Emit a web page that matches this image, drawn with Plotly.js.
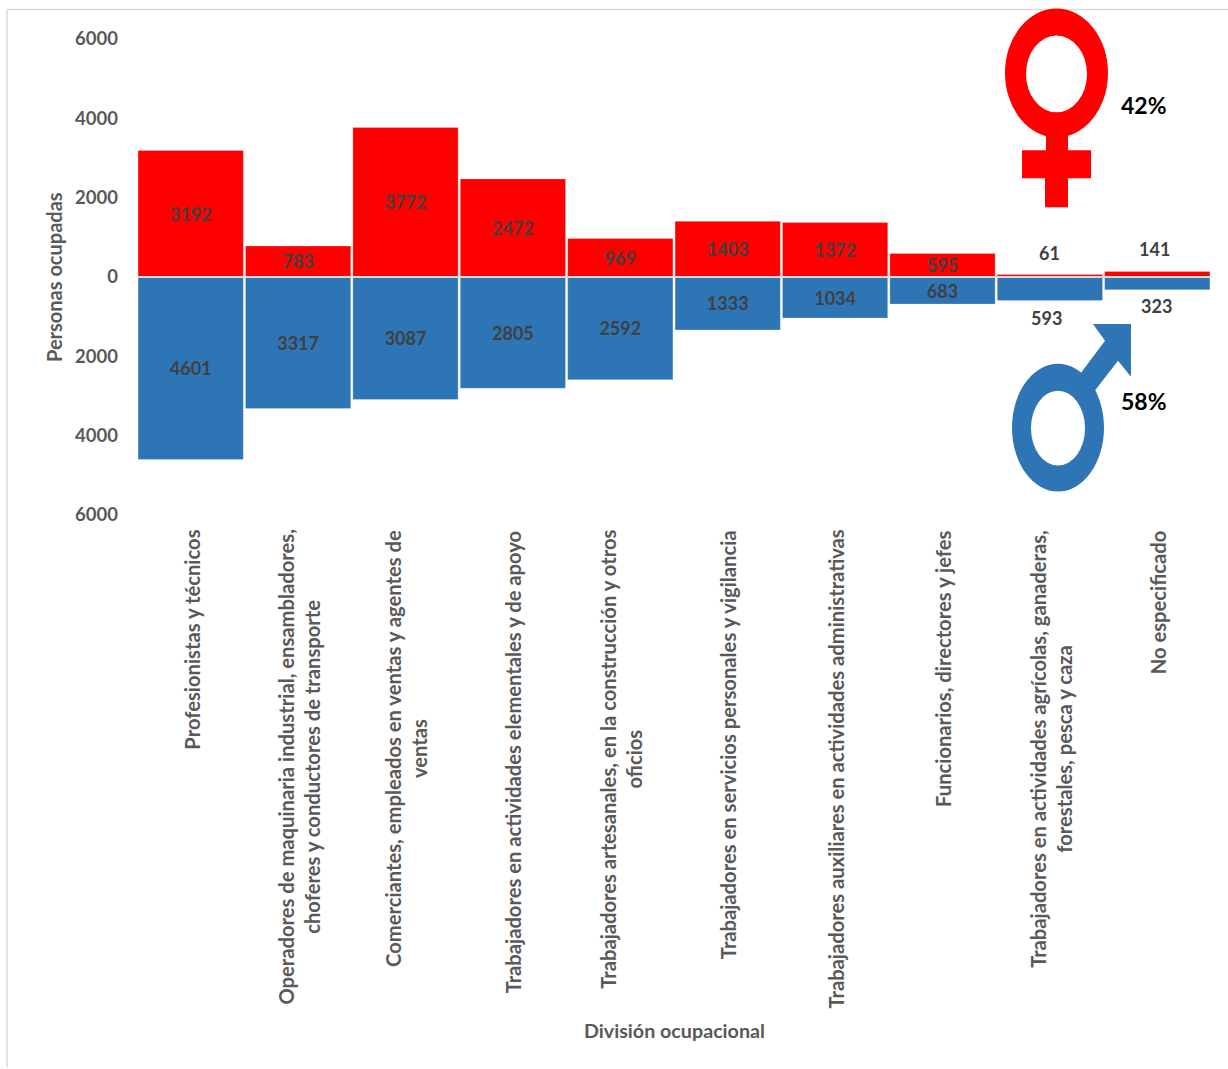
<!DOCTYPE html>
<html><head><meta charset="utf-8">
<script src="https://cdn.plot.ly/plotly-3.0.0.min.js"></script>
<style>html,body{margin:0;padding:0;background:#fff}#c{width:1228px;height:1069px}</style>
</head><body><div id="c"></div>
<script>
const categories = [
 "Profesionistas y técnicos",
 "Operadores de maquinaria industrial, ensambladores,<br>choferes y conductores de transporte",
 "Comerciantes, empleados en ventas y agentes de<br>ventas",
 "Trabajadores en actividades elementales y de apoyo",
 "Trabajadores artesanales, en la construcción y otros<br>oficios",
 "Trabajadores en servicios personales y vigilancia",
 "Trabajadores auxiliares en actividades administrativas",
 "Funcionarios, directores y jefes",
 "Trabajadores en actividades agrícolas, ganaderas,<br>forestales, pesca y caza",
 "No especificado"
];
const mujeres = [3192,783,3772,2472,969,1403,1372,595,61,141];
const hombres = [4601,3317,3087,2805,2592,1333,1034,683,593,323];
const tickVals = [6000,4000,2000,0,-2000,-4000,-6000];
const tickText = ["6000","4000","2000","0","2000","4000","6000"];
const FONT = "Lato, Carlito, sans-serif";
const W=1228,H=1069, L=137,R=1211,T=38.5,B=515.5;
const px=v=>(v-L)/(R-L), py=v=>(B-v)/(B-T);
const poly=(pts,col)=>({type:'path',xref:'paper',yref:'paper',layer:'above',fillcolor:col,line:{width:0},
  path:'M'+pts.map(p=>px(p[0])+','+py(p[1])).join('L')+'Z'});
const ell=(x0,y0,x1,y1,col)=>({type:'circle',xref:'paper',yref:'paper',layer:'above',fillcolor:col,line:{width:0},
  x0:px(x0),x1:px(x1),y0:py(y0),y1:py(y1)});
const RED='#FF0000',BLUE='#2E75B6';
const insideM = mujeres.map((v,i)=>i<8?'<b>'+v+'</b>':'');
const insideH = hombres.map((v,i)=>i<8?'<b>'+v+'</b>':'');
const barFont={family:FONT,size:18,color:'#404040',weight:700};
const bar=(name,y,col,txt)=>({type:'bar',name,x:categories,y,text:txt,textposition:'inside',insidetextanchor:'middle',
  textangle:0,constraintext:'none',cliponaxis:false,
  textfont:barFont,insidetextfont:barFont,
  marker:{color:col,line:{color:'rgba(255,255,255,0.5)',width:0.5}}});
const traces=[bar('Mujeres',mujeres,RED,insideM),bar('Hombres',hombres.map(v=>-v),BLUE,insideH)];
const lab=(i,v,dx,dy)=>({xref:'x',yref:'y',x:categories[i],y:v,xshift:dx,yshift:dy,text:String(Math.abs(v)),showarrow:false,
  xanchor:'center',yanchor:'middle',font:{family:FONT,size:18,color:'#404040',weight:700}});
const free=(x,y,text,size,color,angle)=>({xref:'paper',yref:'paper',x:px(x),y:py(y),xanchor:'center',yanchor:'middle',text,showarrow:false,textangle:angle||0,
  font:{family:FONT,size,color,weight:700}});
const annotations=[
  lab(8,mujeres[8],0,22),lab(9,mujeres[9],-3,22),lab(8,-hombres[8],-3,-17),lab(9,-hombres[9],-1,-16),
  ...categories.map(c=>({xref:'x',yref:'paper',x:c,xshift:1,y:py(528.5),yanchor:'top',xanchor:'center',text:c,textangle:-90,align:'center',showarrow:false,
    font:{family:FONT,size:20.2,color:'#595959',weight:700}})),
  free(674,1032,'División ocupacional',19.7,'#595959'),
  free(54,277,'Personas ocupadas',20,'#595959',-90),
  free(1144,105,'42%',23,'#000'),
  free(1144,401,'58%',23,'#000')
];
const shapes=[
  {type:'line',xref:'paper',yref:'paper',x0:px(7),x1:px(7),y0:py(9),y1:py(1069),line:{color:'#D9D9D9',width:1.5}},
  {type:'line',xref:'paper',yref:'paper',x0:px(7),x1:px(1228),y0:py(9),y1:py(9),line:{color:'#D9D9D9',width:1.5}},
  {type:'line',xref:'paper',yref:'y',x0:0,x1:1,y0:0,y1:0,layer:'above',line:{color:'#D9D9D9',width:2}},
  // female symbol
  poly([[1046,130],[1068,130],[1068,150],[1091,150],[1091,178],[1068,178],[1068,207],[1045,207],[1045,178],[1022,178],[1022,150],[1046,150]],RED),
  ell(1005,8,1108,137,RED), ell(1026,35,1087,112,'#fff'),
  // male symbol
  poly([[1081,373],[1105,341],[1093,324],[1131,324],[1131,377],[1118,361],[1094,392]],BLUE),
  ell(1012,364,1104,492,BLUE), ell(1031,391,1085,466,'#fff')
];
Plotly.newPlot('c',traces,{
  width:W,height:H,margin:{l:L,r:W-R,t:T,b:H-B},paper_bgcolor:'#fff',plot_bgcolor:'#fff',
  barmode:'relative',bargap:0.02,showlegend:false,
  xaxis:{type:'category',categoryorder:'array',categoryarray:categories,showticklabels:false,showgrid:false,zeroline:false,showline:false,ticks:''},
  yaxis:{range:[-6000,6000],tickvals:tickVals,ticktext:tickText,showgrid:false,zeroline:false,
    showline:false,ticks:'',ticklabelstandoff:18,tickfont:{family:FONT,size:18.5,color:'#595959',weight:700}},
  annotations,shapes
},{displayModeBar:false,staticPlot:true});
</script></body></html>
